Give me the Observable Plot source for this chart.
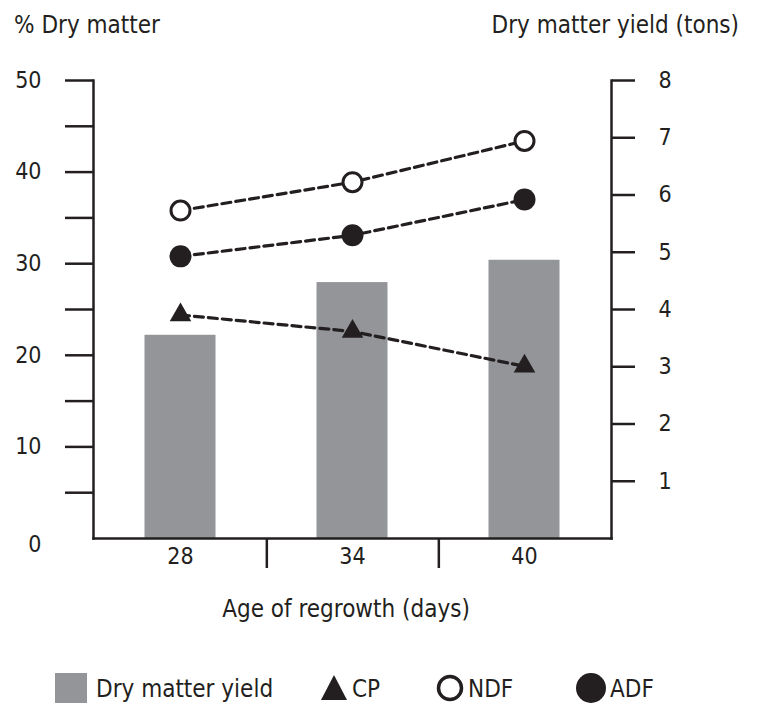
<!DOCTYPE html>
<html>
<head>
<meta charset="utf-8">
<script src="https://cdn.jsdelivr.net/npm/d3@7"></script>
<script src="https://cdn.jsdelivr.net/npm/@observablehq/plot@0.6"></script>
<style>
  html, body { margin: 0; padding: 0; background: #fff; }
  #chart svg { display: block; }
  text { font-family: "DejaVu Sans Condensed", "DejaVu Sans", sans-serif; font-stretch: condensed; }
</style>
</head>
<body>
<div id="chart"></div>
<script>
// ---- data ----
const days = ["28", "34", "40"];
const yieldTons = [3.55, 4.47, 4.86];   // right axis (tons)
const cp  = [24.4, 22.6, 18.8];          // left axis (% dry matter)
const ndf = [35.8, 38.9, 43.4];
const adf = [30.8, 33.1, 37.0];
const leftLabelTicks = [10, 20, 30, 40, 50];
const leftZeroTick = [0];
const leftMinorTicks = [5, 10, 15, 20, 25, 30, 35, 40, 45, 50];
const rightTicks = [1, 2, 3, 4, 5, 6, 7, 8];
const separatorTicks = ["28", "34"];
const leftMax = 50, rightMax = 8;
const ratio = leftMax / rightMax;

const ink = "#231f20";
const barColor = "#939598";
const font = '"DejaVu Sans Condensed", "DejaVu Sans", sans-serif';

const series = (vals) => vals.map((v, i) => ({day: days[i], v}));

const chart = Plot.plot({
  width: 757,
  height: 706,
  marginTop: 80,
  marginBottom: 168,
  marginLeft: 93,
  marginRight: 146,
  style: {fontFamily: font, fontSize: "23px", color: ink, background: "white"},
  x: {type: "band", domain: days, padding: 0},
  y: {domain: [0, leftMax]},
  marks: [
    Plot.barY(series(yieldTons), {x: "day", y: d => d.v * ratio, fill: barColor, insetLeft: 50.5, insetRight: 50.5}),
    // frame lines
    Plot.frame({anchor: "left", stroke: ink, strokeWidth: 2.5}),
    Plot.frame({anchor: "right", stroke: ink, strokeWidth: 2.5}),
    Plot.frame({anchor: "bottom", stroke: ink, strokeWidth: 2.5}),
    // left axis
    Plot.axisY({ticks: leftMinorTicks, tickSize: 28, stroke: ink, strokeWidth: 2.5, fill: "none", label: null}),
    Plot.axisY({ticks: leftLabelTicks, tickSize: 0, tickPadding: 52, fontSize: 23, fill: ink, label: null}),
    Plot.axisY({ticks: leftZeroTick, tickSize: 0, tickPadding: 52, fontSize: 23, fill: ink, dy: 6, label: null}),
    // right axis (tons)
    Plot.axisY({anchor: "right", ticks: rightTicks.map(t => t * ratio), tickFormat: d => d / ratio,
      tickSize: 23, tickPadding: 24, stroke: ink, strokeWidth: 2.5, fontSize: 23, fill: ink, label: null}),
    // x axis
    Plot.axisX({tickSize: 0, tickPadding: 9, fontSize: 23, fill: ink, label: null}),
    Plot.axisX({ticks: separatorTicks, tickSize: 30, dx: 86.33, stroke: ink, strokeWidth: 2.5, fill: "none", label: null}),
    // lines
    Plot.line(series(ndf), {x: "day", y: "v", stroke: ink, strokeWidth: 3.2, strokeDasharray: "9,5"}),
    Plot.line(series(adf), {x: "day", y: "v", stroke: ink, strokeWidth: 3.2, strokeDasharray: "9,5"}),
    Plot.line(series(cp), {x: "day", y: "v", stroke: ink, strokeWidth: 3.2, strokeDasharray: "9,5"}),
    // markers
    Plot.dot(series(ndf), {x: "day", y: "v", r: 9.5, fill: "white", stroke: ink, strokeWidth: 3}),
    Plot.dot(series(adf), {x: "day", y: "v", r: 11, fill: ink, stroke: "none"}),
    Plot.dot(series(cp), {x: "day", y: "v", r: 8, symbol: "triangle", fill: ink, stroke: "none"})
  ]
});

document.getElementById("chart").appendChild(chart);

// titles and legend
const svg = d3.select(chart);
const g = svg.append("g").attr("fill", ink).attr("text-anchor", "start")
  .style("font-family", font).style("font-stretch", "condensed");
g.append("text").attr("x", 14).attr("y", 33).attr("font-size", 24).text("% Dry matter");
g.append("text").attr("x", 739).attr("y", 33).attr("font-size", 24).attr("text-anchor", "end").text("Dry matter yield (tons)");
g.append("text").attr("x", 346).attr("y", 617).attr("font-size", 24).attr("text-anchor", "middle").text("Age of regrowth (days)");

const lg = g.append("g");
lg.append("rect").attr("x", 55).attr("y", 673).attr("width", 32).attr("height", 30).attr("fill", barColor);
lg.append("text").attr("x", 96).attr("y", 697).attr("font-size", 24).text("Dry matter yield");
lg.append("path").attr("d", "M321,700L347,700L334,675Z").attr("fill", ink);
lg.append("text").attr("x", 352).attr("y", 697).attr("font-size", 24).text("CP");
lg.append("circle").attr("cx", 450).attr("cy", 688).attr("r", 11.5).attr("fill", "white").attr("stroke", ink).attr("stroke-width", 3.5);
lg.append("text").attr("x", 468).attr("y", 697).attr("font-size", 24).text("NDF");
lg.append("circle").attr("cx", 591).attr("cy", 688).attr("r", 15).attr("fill", ink);
lg.append("text").attr("x", 610).attr("y", 697).attr("font-size", 24).text("ADF");
</script>
</body>
</html>
